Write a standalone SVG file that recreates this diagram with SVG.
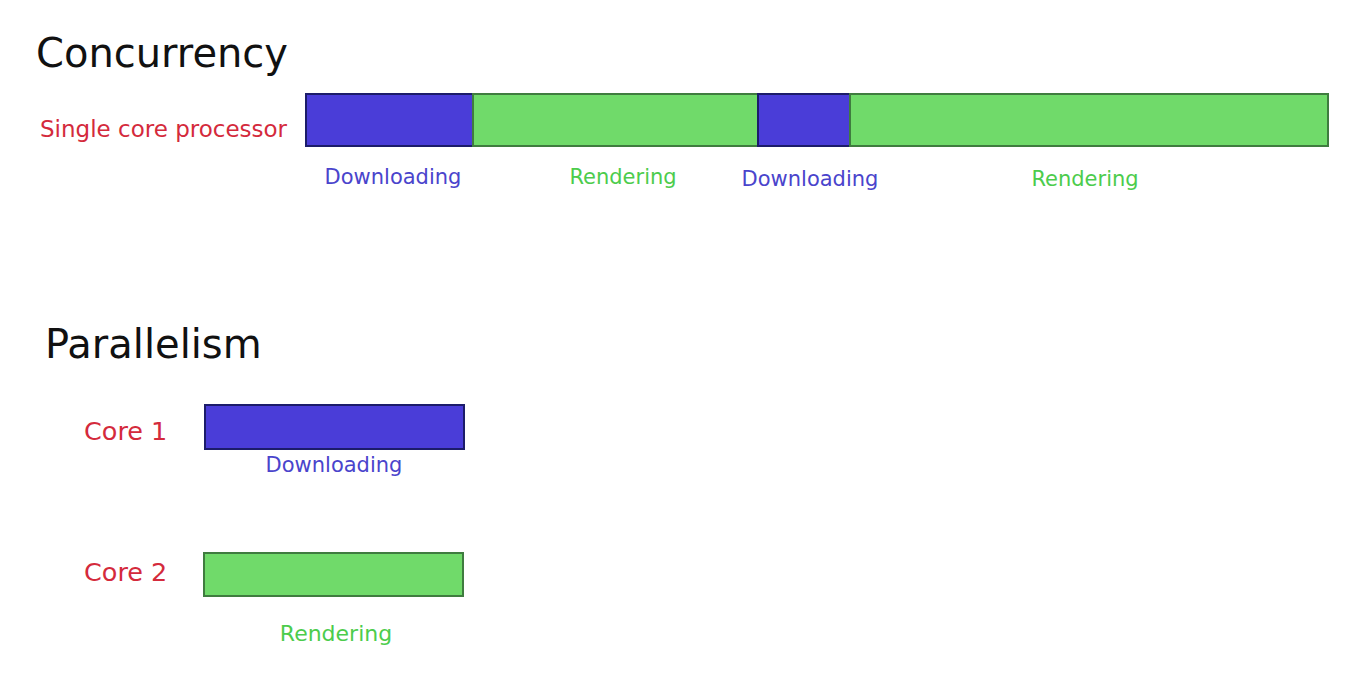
<svg xmlns="http://www.w3.org/2000/svg" width="1368" height="688" viewBox="0 0 1368 688">
<style>
text{font-family:"DejaVu Sans","Liberation Sans",sans-serif}
.title{font-size:40px;fill:#111}
.lbl{font-size:23px;fill:#d42a3c}
.dl{font-size:21px;fill:#4a44cc}
.rn{font-size:21px;fill:#4ccc4c}
.b{fill:#4a3dd8;stroke:#1c1c6a;stroke-width:2}
.g{fill:#70da6a;stroke:#3f7c3f;stroke-width:2}
</style>
<rect width="1368" height="688" fill="#fff"/>
<text class="title" x="36" y="67">Concurrency</text>
<text class="title" x="45" y="358">Parallelism</text>
<g id="single">
<text class="lbl" x="40" y="137">Single core processor</text>
<rect class="b" x="306" y="94" width="167" height="52"/>
<rect class="g" x="473" y="94" width="285" height="52"/>
<rect class="b" x="758" y="94" width="92" height="52"/>
<rect class="g" x="850" y="94" width="478" height="52"/>
<text class="dl" x="393" y="184" text-anchor="middle">Downloading</text>
<text class="rn" x="623" y="184" text-anchor="middle">Rendering</text>
<text class="dl" x="810" y="186" text-anchor="middle">Downloading</text>
<text class="rn" x="1085" y="186" text-anchor="middle">Rendering</text>
</g>
<g id="core1">
<text class="lbl" x="84" y="440" style="font-size:25.5px">Core 1</text>
<rect class="b" x="205" y="405" width="259" height="44"/>
<text class="dl" x="334" y="472" text-anchor="middle">Downloading</text>
</g>
<g id="core2">
<text class="lbl" x="84" y="581" style="font-size:25.5px">Core 2</text>
<rect class="g" x="204" y="553" width="259" height="43"/>
<text class="rn" x="336" y="641" text-anchor="middle" style="font-size:22px">Rendering</text>
</g>
</svg>
